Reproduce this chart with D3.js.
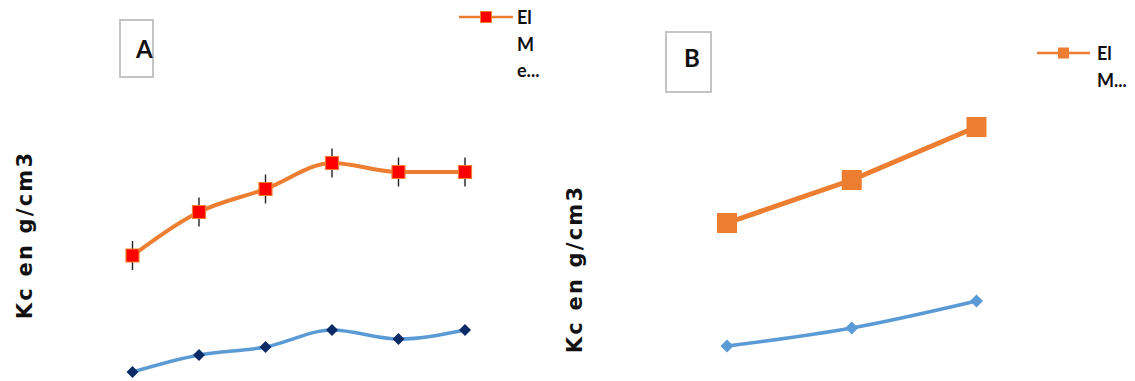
<!DOCTYPE html>
<html>
<head>
<meta charset="utf-8">
<script src="https://cdn.jsdelivr.net/npm/d3@7"></script>
<style>
  html, body { margin: 0; padding: 0; background: #fff; }
  svg { display: block; }
</style>
</head>
<body>
<svg id="chart" width="1135" height="381"></svg>
<script>
// Panel A: six samples, panel B: three samples
const categoriesA = ["1", "2", "3", "4", "5", "6"];
const categoriesB = ["1", "2", "3"];

// Kc (g/cm3) for the two series in each panel
const upperA = [1.445, 1.88, 2.11, 2.37, 2.28, 2.28];
const upperErrA = [0.145, 0.145, 0.145, 0.145, 0.145, 0.145];
const lowerA = [0.28, 0.45, 0.53, 0.70, 0.61, 0.70];

const upperB = [1.77, 2.20, 2.73];
const lowerB = [0.54, 0.72, 0.99];

// Text
const axisLabel = "Kc  en g/cm3";
const legendLinesA = ["El", "M", "e..."];
const legendLinesB = ["El", "M..."];
const panelTags = ["A", "B"];

const ORANGE = "#ED7D31";
const RED = "#FF0000";
const BLUE = "#5B9BD5";
const NAVY = "#0B2A66";
const BOX = "#C4C4C4";

const svg = d3.select("#chart");

const y = d3.scaleLinear().domain([0, 3]).range([400, 100]);

const xA = d3.scalePoint().domain(categoriesA).range([132.5, 465]);
const xB = d3.scalePoint().domain(categoriesB).range([727, 976.5]);

// Diamond symbol built from a rotated square
const diamond = {
  draw(context, size) {
    const r = Math.sqrt(size) / 2 * Math.SQRT2;
    context.moveTo(0, -r);
    context.lineTo(r, 0);
    context.lineTo(0, r);
    context.lineTo(-r, 0);
    context.closePath();
  }
};

function drawSeries(g, x, cats, vals, opts) {
  const line = d3.line()
    .x((d, i) => x(cats[i]))
    .y(d => y(d))
    .curve(opts.curve);
  g.append("path")
    .datum(vals)
    .attr("fill", "none")
    .attr("stroke", opts.lineColor)
    .attr("stroke-width", opts.lineWidth)
    .attr("stroke-linejoin", "round")
    .attr("d", line);

  if (opts.err) {
    g.selectAll(null).data(vals).enter().append("line")
      .attr("x1", (d, i) => x(cats[i]))
      .attr("x2", (d, i) => x(cats[i]))
      .attr("y1", (d, i) => y(d + opts.err[i]))
      .attr("y2", (d, i) => y(d - opts.err[i]))
      .attr("stroke", "#222")
      .attr("stroke-width", 1.4);
  }

  const sym = d3.symbol().type(opts.symbol).size(opts.symbolSize);
  g.selectAll(null).data(vals).enter().append("path")
    .attr("d", sym)
    .attr("transform", (d, i) => `translate(${x(cats[i])},${y(d)})`)
    .attr("fill", opts.fill)
    .attr("stroke", opts.stroke || "none")
    .attr("stroke-width", opts.stroke ? 1.2 : 0);
}

// ---------- Panel A ----------
const gA = svg.append("g");
drawSeries(gA, xA, categoriesA, lowerA, {
  curve: d3.curveMonotoneX, lineColor: BLUE, lineWidth: 3.5,
  symbol: diamond, symbolSize: 72, fill: NAVY
});
drawSeries(gA, xA, categoriesA, upperA, {
  curve: d3.curveMonotoneX, lineColor: ORANGE, lineWidth: 4,
  err: upperErrA,
  symbol: d3.symbolSquare, symbolSize: 169, fill: RED, stroke: ORANGE
});

// ---------- Panel B ----------
const gB = svg.append("g");
drawSeries(gB, xB, categoriesB, lowerB, {
  curve: d3.curveMonotoneX, lineColor: BLUE, lineWidth: 3.5,
  symbol: diamond, symbolSize: 84, fill: BLUE
});
drawSeries(gB, xB, categoriesB, upperB, {
  curve: d3.curveLinear, lineColor: ORANGE, lineWidth: 5,
  symbol: d3.symbolSquare, symbolSize: 400, fill: ORANGE
});

// ---------- Axis titles ----------
function axisTitle(cx, cy, size) {
  svg.append("text")
    .attr("transform", `translate(${cx},${cy}) rotate(-90)`)
    .attr("text-anchor", "middle")
    .attr("font-family", "'DejaVu Sans', Verdana, sans-serif")
    .attr("font-weight", "bold")
    .attr("font-size", size)
    .attr("letter-spacing", 2.2)
    .attr("fill", "#111")
    .text(axisLabel);
}
axisTitle(32, 235, 21);
axisTitle(582, 269, 21);

// ---------- Panel tags ----------
function tagBox(x0, y0, w, h, tx, ty, label, weight) {
  svg.append("rect")
    .attr("x", x0).attr("y", y0).attr("width", w).attr("height", h)
    .attr("fill", "#fff").attr("stroke", BOX).attr("stroke-width", 2);
  svg.append("text")
    .attr("x", tx).attr("y", ty)
    .attr("font-family", "Lato, 'Open Sans', sans-serif")
    .attr("font-weight", weight)
    .attr("font-size", 24)
    .attr("fill", "#111")
    .text(label);
}
tagBox(120, 20, 33, 57, 136, 58, panelTags[0], "bold");
tagBox(666, 32, 45, 60, 684, 67, panelTags[1], "bold");

// ---------- Legends ----------
function legend(x1, x2, ly, fill, stroke, lines, tx, ty0, lh) {
  svg.append("line")
    .attr("x1", x1).attr("x2", x2).attr("y1", ly).attr("y2", ly)
    .attr("stroke", ORANGE).attr("stroke-width", 2.5);
  svg.append("path")
    .attr("d", d3.symbol().type(d3.symbolSquare).size(121)())
    .attr("transform", `translate(${(x1 + x2) / 2},${ly})`)
    .attr("fill", fill)
    .attr("stroke", stroke || "none")
    .attr("stroke-width", stroke ? 1 : 0);
  svg.append("g").selectAll("text").data(lines).enter().append("text")
    .attr("x", tx)
    .attr("y", (d, i) => ty0 + i * lh)
    .attr("font-family", "Lato, 'Open Sans', sans-serif")
    .attr("font-weight", "bold")
    .attr("font-size", 18)
    .attr("fill", "#111")
    .text(d => d);
}
legend(459, 513, 17, RED, ORANGE, legendLinesA, 517, 24, 26.5);
legend(1037, 1090, 53, ORANGE, null, legendLinesB, 1097, 60, 27);
</script>
</body>
</html>
